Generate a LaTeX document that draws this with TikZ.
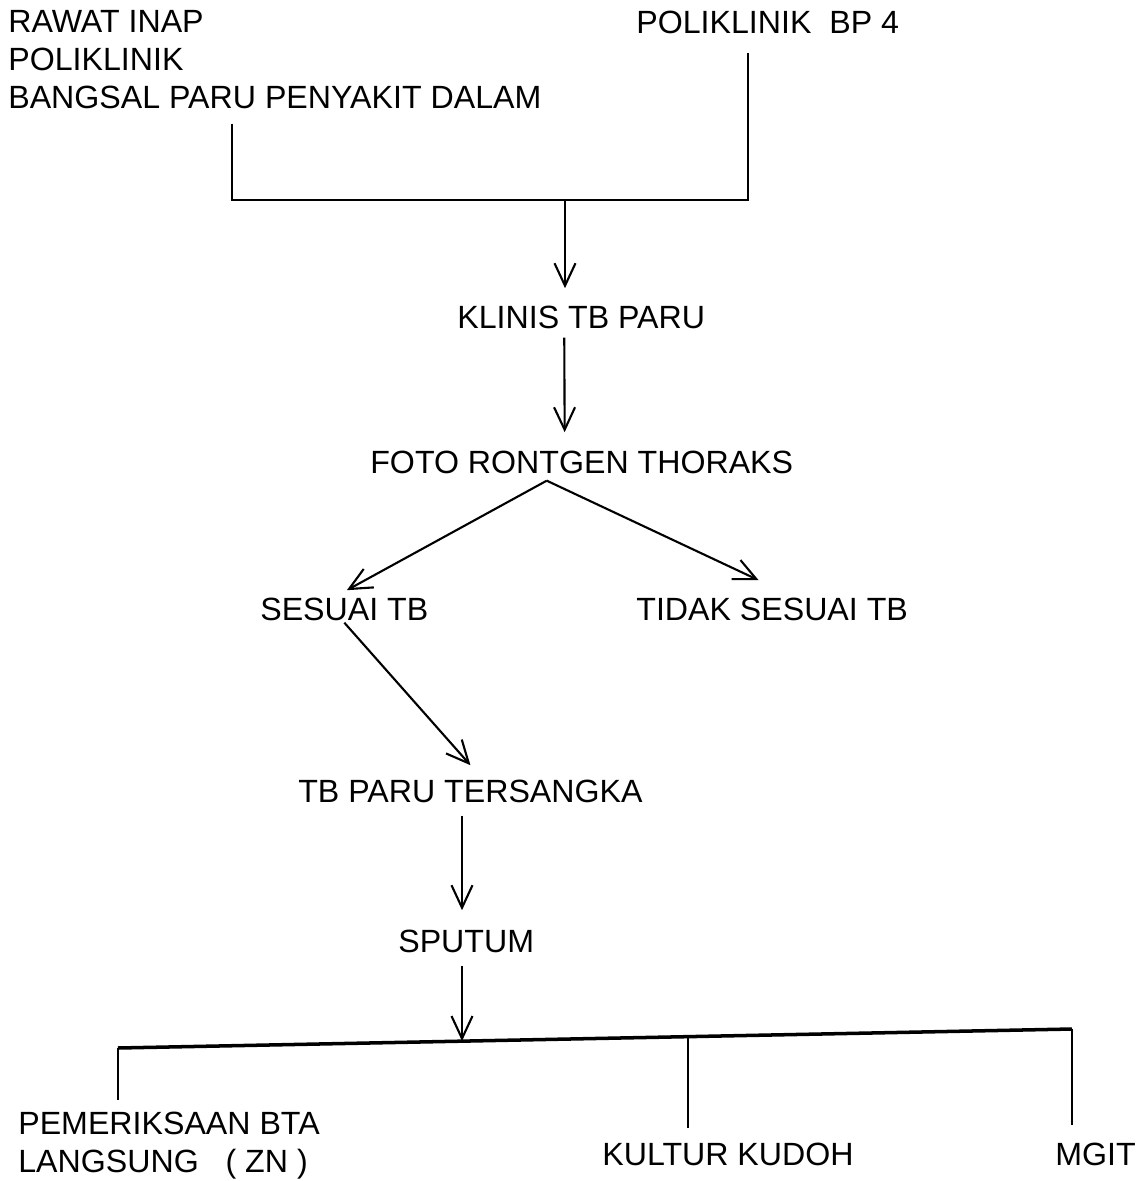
\documentclass[tikz,border=0pt]{standalone}
\usepackage{fontspec}
\setmainfont{Liberation Sans}
\usetikzlibrary{positioning,arrows.meta}

\begin{document}
\begin{tikzpicture}[x=0.02cm, y=-0.02cm]
    % Define styles
    \tikzset{txt/.style={font=\fontsize{18.3}{21.5}\selectfont, inner sep=0pt, anchor=base west}}
    \tikzset{line/.style={line width=1.2pt}}
    \tikzset{bus/.style={line width=2pt}}
    \tikzset{arr/.style={line width=1.2pt, -{Straight Barb[length=0.45cm, width=0.42cm, line width=1.2pt]}}}

    \useasboundingbox (0,0) rectangle (1136,1181);

    % Sources
    \node[txt, anchor=north west, align=left] (wards) at (8,10) {RAWAT INAP\\POLIKLINIK\\BANGSAL PARU PENYAKIT DALAM};
    \node[txt] (bp) at (636,33) {POLIKLINIK\ \ BP 4};

    % Main chain
    \node[txt] (klinis) at (457,328) {KLINIS TB PARU};
    \node[txt] (foto) at (370,473) {FOTO RONTGEN THORAKS};
    \node[txt] (sesuai) at (260,620) {SESUAI TB};
    \node[txt] (tidak) at (636,620) {TIDAK SESUAI TB};
    \node[txt] (tersangka) at (298,802) {TB PARU TERSANGKA};
    \node[txt] (sputum) at (398,952) {SPUTUM};

    % Examinations
    \node[txt, anchor=north west, align=left] (bta) at (18,1112) {PEMERIKSAAN BTA\\LANGSUNG\ \ \ ( ZN )};
    \node[txt] (kultur) at (602,1165) {KULTUR KUDOH};
    \node[txt] (mgit) at (1055,1165) {MGIT};

    % Joints
    \coordinate (lcorner) at (232,200);
    \coordinate (rcorner) at (748,200);
    \coordinate (join) at (565,200);
    \coordinate (fork) at ([xshift=-0.7cm, yshift=-0.14cm]foto.south);
    \coordinate (busl) at (118,1048);
    \coordinate (busr) at (1072,1029);
    \coordinate (split) at (462,1041);
    \coordinate (kjoin) at (688,1037);

    % Connect sources
    \draw[line] ([yshift=-0.3cm]wards.south -| lcorner) -- (lcorner) -- (rcorner) -- ([yshift=-0.38cm]bp.south -| rcorner);
    \draw[arr, shorten >=0.34cm] (join) -- (klinis.north -| join);
    \draw[arr, shorten <=0.18cm, shorten >=0.36cm] ([xshift=-0.34cm]klinis.south) -- ([xshift=-0.34cm]foto.north);

    % Branches
    \draw[arr] (fork) -- ([xshift=0.05cm, yshift=0.14cm]sesuai.north);
    \draw[arr] (fork) -- ([xshift=-0.27cm, yshift=0.34cm]tidak.north);
    \draw[arr] ([yshift=-0.04cm]sesuai.south) -- ([yshift=0.28cm]tersangka.north);
    \draw[arr, shorten <=0.26cm, shorten >=0.38cm] (tersangka.south -| split) -- (sputum.north -| split);
    \draw[arr, shorten <=0.26cm] (sputum.south -| split) -- (split);

    % Examination bus
    \draw[bus] (busl) -- (busr);
    \draw[line, line width=1.5pt, shorten >=0.24cm] (busl) -- (busl |- bta.north);
    \draw[line, line width=1.5pt, shorten >=0.28cm] (kjoin) -- (kjoin |- kultur.north);
    \draw[line, line width=1.5pt, shorten >=0.34cm] (busr) -- (busr |- mgit.north);
\end{tikzpicture}
\end{document}
